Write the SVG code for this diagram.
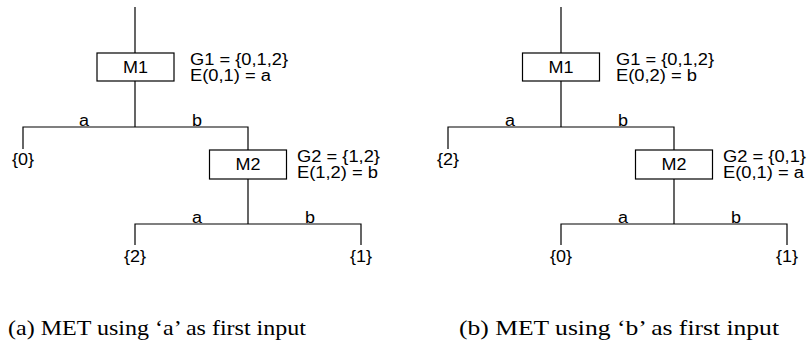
<svg xmlns="http://www.w3.org/2000/svg" width="810" height="355" viewBox="0 0 810 355">
<style>
.ln{stroke:#000;stroke-width:1.2;fill:none}
.bx{stroke:#000;stroke-width:1.2;fill:#fff}
.t{font-family:"Liberation Sans",Arial,sans-serif;font-size:16px;fill:#000}
.c{text-anchor:middle}
.cap{font-family:"Liberation Serif","Times New Roman",serif;font-size:21px;fill:#000}
</style>
<g id="connectors">
<path class="ln" d="M135 7V53M135 81V127M23 149V127H248V150M248 179V224M135 245V224H361V245"/>
<path class="ln" d="M561 7V53M561 81V127M448 149V127H674V150M674 179V224M561 245V224H787V245"/>
</g>
<g id="a-M1"><rect class="bx" x="97" y="53" width="77" height="28"/><text class="t c" x="135.5" y="73" textLength="25" lengthAdjust="spacingAndGlyphs">M1</text>
<text class="t" x="190" y="65" textLength="98" lengthAdjust="spacingAndGlyphs">G1 = {0,1,2}</text><text class="t" x="190" y="81" textLength="81" lengthAdjust="spacingAndGlyphs">E(0,1) = a</text></g>
<g id="a-M2"><rect class="bx" x="209.5" y="150" width="77" height="29"/><text class="t c" x="248" y="170" textLength="25" lengthAdjust="spacingAndGlyphs">M2</text>
<text class="t" x="297" y="162" textLength="83" lengthAdjust="spacingAndGlyphs">G2 = {1,2}</text><text class="t" x="297" y="178" textLength="81" lengthAdjust="spacingAndGlyphs">E(1,2) = b</text></g>
<g id="a-labels">
<text class="t c" x="84" y="126" textLength="10" lengthAdjust="spacingAndGlyphs">a</text><text class="t c" x="197" y="126" textLength="10" lengthAdjust="spacingAndGlyphs">b</text>
<text class="t c" x="197" y="223" textLength="10" lengthAdjust="spacingAndGlyphs">a</text><text class="t c" x="310" y="223" textLength="10" lengthAdjust="spacingAndGlyphs">b</text>
</g>
<g id="a-leaf0"><text class="t c" x="23" y="165" textLength="22" lengthAdjust="spacingAndGlyphs">{0}</text></g>
<g id="a-leaf2"><text class="t c" x="135" y="262" textLength="22" lengthAdjust="spacingAndGlyphs">{2}</text></g>
<g id="a-leaf1"><text class="t c" x="361" y="262" textLength="22" lengthAdjust="spacingAndGlyphs">{1}</text></g>
<g id="b-M1"><rect class="bx" x="522.5" y="53" width="77" height="28"/><text class="t c" x="561" y="73" textLength="25" lengthAdjust="spacingAndGlyphs">M1</text>
<text class="t" x="616" y="65" textLength="98" lengthAdjust="spacingAndGlyphs">G1 = {0,1,2}</text><text class="t" x="616" y="81" textLength="81" lengthAdjust="spacingAndGlyphs">E(0,2) = b</text></g>
<g id="b-M2"><rect class="bx" x="635.5" y="150" width="77" height="29"/><text class="t c" x="674" y="170" textLength="25" lengthAdjust="spacingAndGlyphs">M2</text>
<text class="t" x="723" y="162" textLength="83" lengthAdjust="spacingAndGlyphs">G2 = {0,1}</text><text class="t" x="723" y="178" textLength="81" lengthAdjust="spacingAndGlyphs">E(0,1) = a</text></g>
<g id="b-labels">
<text class="t c" x="510" y="126" textLength="10" lengthAdjust="spacingAndGlyphs">a</text><text class="t c" x="623" y="126" textLength="10" lengthAdjust="spacingAndGlyphs">b</text>
<text class="t c" x="623" y="223" textLength="10" lengthAdjust="spacingAndGlyphs">a</text><text class="t c" x="736" y="223" textLength="10" lengthAdjust="spacingAndGlyphs">b</text>
</g>
<g id="b-leaf2"><text class="t c" x="448" y="165" textLength="22" lengthAdjust="spacingAndGlyphs">{2}</text></g>
<g id="b-leaf0"><text class="t c" x="561" y="262" textLength="22" lengthAdjust="spacingAndGlyphs">{0}</text></g>
<g id="b-leaf1"><text class="t c" x="787" y="262" textLength="22" lengthAdjust="spacingAndGlyphs">{1}</text></g>
<text class="cap" x="8" y="335" textLength="298" lengthAdjust="spacingAndGlyphs">(a) MET using ‘a’ as first input</text>
<text class="cap" x="459" y="335" textLength="320" lengthAdjust="spacingAndGlyphs">(b) MET using ‘b’ as first input</text>
</svg>
